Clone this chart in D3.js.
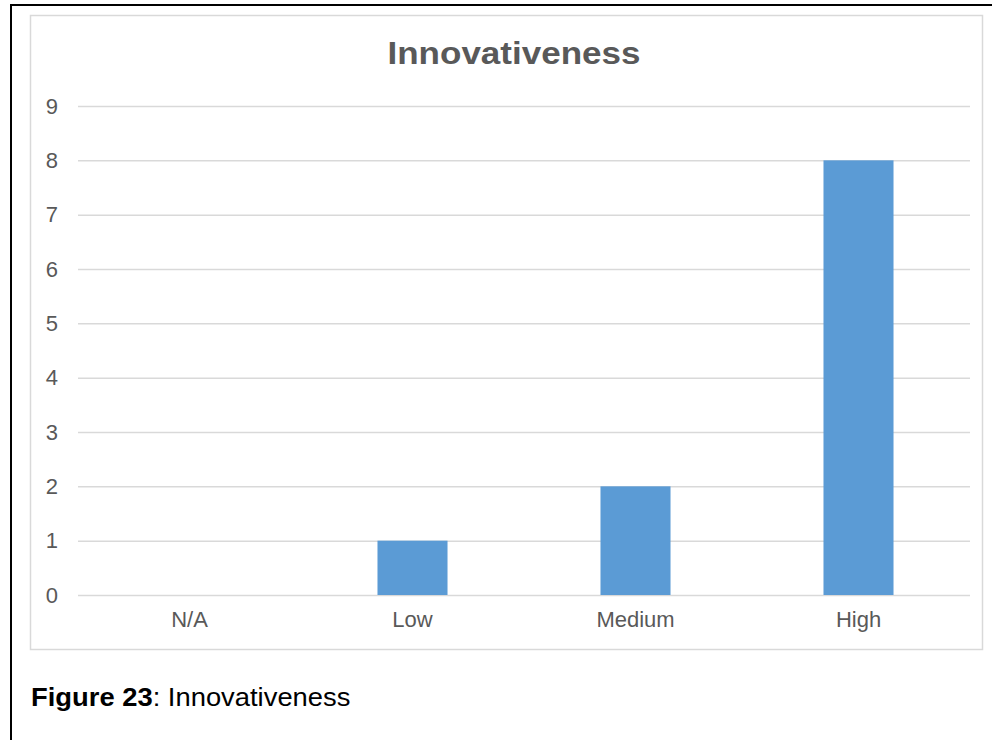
<!DOCTYPE html>
<html>
<head>
<meta charset="utf-8">
<script src="https://cdn.jsdelivr.net/npm/d3@7"></script>
<style>
  html, body { margin: 0; padding: 0; background: #fff; }
  svg { display: block; font-family: "Liberation Sans", Arial, sans-serif; }
</style>
</head>
<body>
<svg id="chart" width="992" height="740"></svg>
<script>
// Survey results: number of responses per innovativeness rating
const categories = ["N/A", "Low", "Medium", "High"];
const counts = [0, 1, 2, 8];
const yTicks = [0, 1, 2, 3, 4, 5, 6, 7, 8, 9];
const chartTitle = "Innovativeness";
const captionLabel = "Figure 23";
const captionText = ": Innovativeness";

const svg = d3.select("#chart");

// Page frame
svg.append("rect")
  .attr("x", 11).attr("y", 5)
  .attr("width", 1000).attr("height", 760)
  .attr("fill", "none").attr("stroke", "#000").attr("stroke-width", 2);

// Chart area border
svg.append("rect")
  .attr("x", 30.5).attr("y", 15.5)
  .attr("width", 952).attr("height", 634)
  .attr("fill", "#fff").attr("stroke", "#d9d9d9").attr("stroke-width", 1.5);

const plot = { left: 78, right: 970, top: 106, bottom: 595 };

const x = d3.scaleBand()
  .domain(categories)
  .range([plot.left, plot.right])
  .paddingInner(0.686)
  .paddingOuter(0.343);

const y = d3.scaleLinear()
  .domain([0, 9])
  .range([plot.bottom, plot.top]);

// Horizontal gridlines with value labels
const yAxis = d3.axisLeft(y)
  .tickValues(yTicks)
  .tickSize(-(plot.right - plot.left))
  .tickPadding(20)
  .tickFormat(d3.format("d"));

const gy = svg.append("g")
  .attr("transform", `translate(${plot.left},0)`)
  .call(yAxis);
gy.select(".domain").remove();
gy.selectAll(".tick line").attr("stroke", "#d9d9d9").attr("stroke-width", 1.5);
gy.selectAll(".tick text")
  .attr("fill", "#595959")
  .attr("font-size", 22)
  .attr("x", -20);

// Category axis
const xAxis = d3.axisBottom(x).tickSize(0).tickPadding(16);
const gx = svg.append("g")
  .attr("transform", `translate(0,${plot.bottom})`)
  .call(xAxis);
gx.select(".domain").remove();
gx.selectAll(".tick text")
  .attr("fill", "#595959")
  .attr("font-size", 22);

// Bars
svg.append("g")
  .selectAll("rect")
  .data(categories.map((c, i) => ({ c, v: counts[i] })))
  .join("rect")
  .attr("x", d => x(d.c))
  .attr("y", d => y(d.v))
  .attr("width", x.bandwidth())
  .attr("height", d => y(0) - y(d.v))
  .attr("fill", "#5b9bd5");

// Title (slightly wide lettering)
svg.append("text")
  .attr("transform", "translate(514,64) scale(1.095,1)")
  .attr("text-anchor", "middle")
  .attr("font-size", 32)
  .attr("font-weight", "bold")
  .attr("fill", "#595959")
  .text(chartTitle);

// Caption
const cap = svg.append("text")
  .attr("transform", "translate(31,706) scale(1.095,1)")
  .attr("font-size", 25)
  .attr("fill", "#000");
cap.append("tspan").attr("font-weight", "bold").text(captionLabel);
cap.append("tspan").text(captionText);
</script>
</body>
</html>
